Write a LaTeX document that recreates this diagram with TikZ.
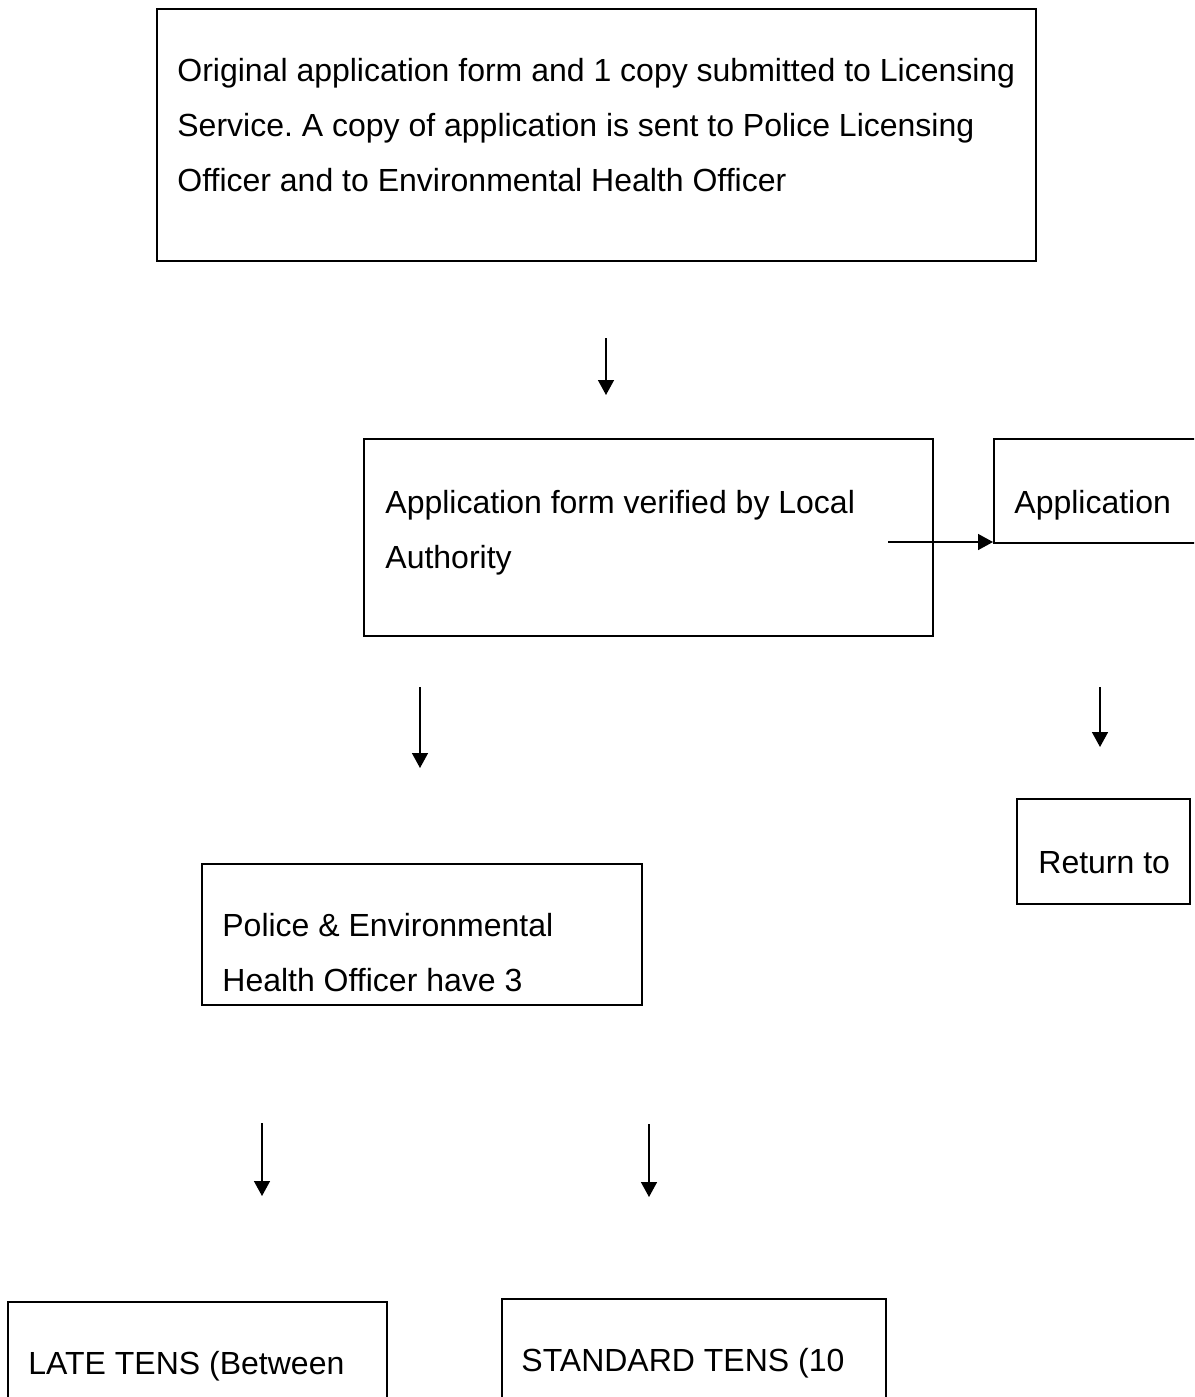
\documentclass[tikz,border=0pt]{standalone}
\usepackage{fontspec}
\setmainfont{Liberation Sans}
\usetikzlibrary{arrows.meta}
\frenchspacing

\begin{document}
\begin{tikzpicture}[x=0.5pt, y=-0.5pt, >={Triangle[width=8pt,length=7.5pt]},
  box/.style = {draw, line width=1pt, anchor=north west, inner sep=0pt},
  txt/.style = {anchor=base west, align=left, inner sep=0pt, font=\fontsize{16pt}{27.5pt}\selectfont},
  arr/.style = {->, line width=0.75pt}]
\clip (0,0) rectangle (1194,1397);
\useasboundingbox (0,0) rectangle (1194,1397);
% boxes
\node[box, minimum width=439.5pt, minimum height=126pt] (orig) at (156,8) {};
\node[box, minimum width=284.5pt, minimum height=98.5pt] (verify) at (363,438) {};
\node[box, minimum width=130pt, minimum height=52pt] (app) at (993,438) {};
\node[box, minimum width=86.5pt, minimum height=52.5pt] (ret) at (1016,798) {};
\node[box, minimum width=220pt, minimum height=70.5pt] (police) at (201,863) {};
\node[box, minimum width=189.5pt, minimum height=100pt] (late) at (7,1301) {};
\node[box, minimum width=192pt, minimum height=100pt] (std) at (501,1298) {};
% texts (base = last line)
\node[txt] (origtxt) at ([shift={(21,183)}]orig.north west) {Original application form and 1 copy submitted to Licensing\\Service. A copy of application is sent to Police Licensing\\Officer and to Environmental Health Officer};
\node[txt] (verifytxt) at ([shift={(22,130)}]verify.north west) {Application form verified by Local\\Authority};
\node[txt] (apptxt) at ([shift={(21,75)}]app.north west) {Application};
\node[txt] (rettxt) at ([shift={(22,75)}]ret.north west) {Return to};
\node[txt] (policetxt) at ([shift={(21,128)}]police.north west) {Police \& Environmental\\Health Officer have 3};
\node[txt] (latetxt) at ([shift={(21,73)}]late.north west) {LATE TENS (Between};
\node[txt] (stdtxt) at ([shift={(20,73)}]std.north west) {STANDARD TENS (10};
% arrows
\coordinate (a1) at (606,338);
\coordinate (b1) at (606,395);
\coordinate (a2) at (888,542);
\coordinate (a3) at (420,687);
\coordinate (b3) at (420,768);
\coordinate (a4) at (1100,687);
\coordinate (b4) at (1100,747);
\coordinate (a5) at (262,1123);
\coordinate (b5) at (262,1196);
\coordinate (a6) at (649,1124);
\coordinate (b6) at (649,1197);
\draw[arr] (a1) -- (b1);
\draw[arr] (a2) -- (a2 -| app.west);
\draw[arr] (a3) -- (b3);
\draw[arr] (a4) -- (b4);
\draw[arr] (a5) -- (b5);
\draw[arr] (a6) -- (b6);
\end{tikzpicture}
\end{document}
